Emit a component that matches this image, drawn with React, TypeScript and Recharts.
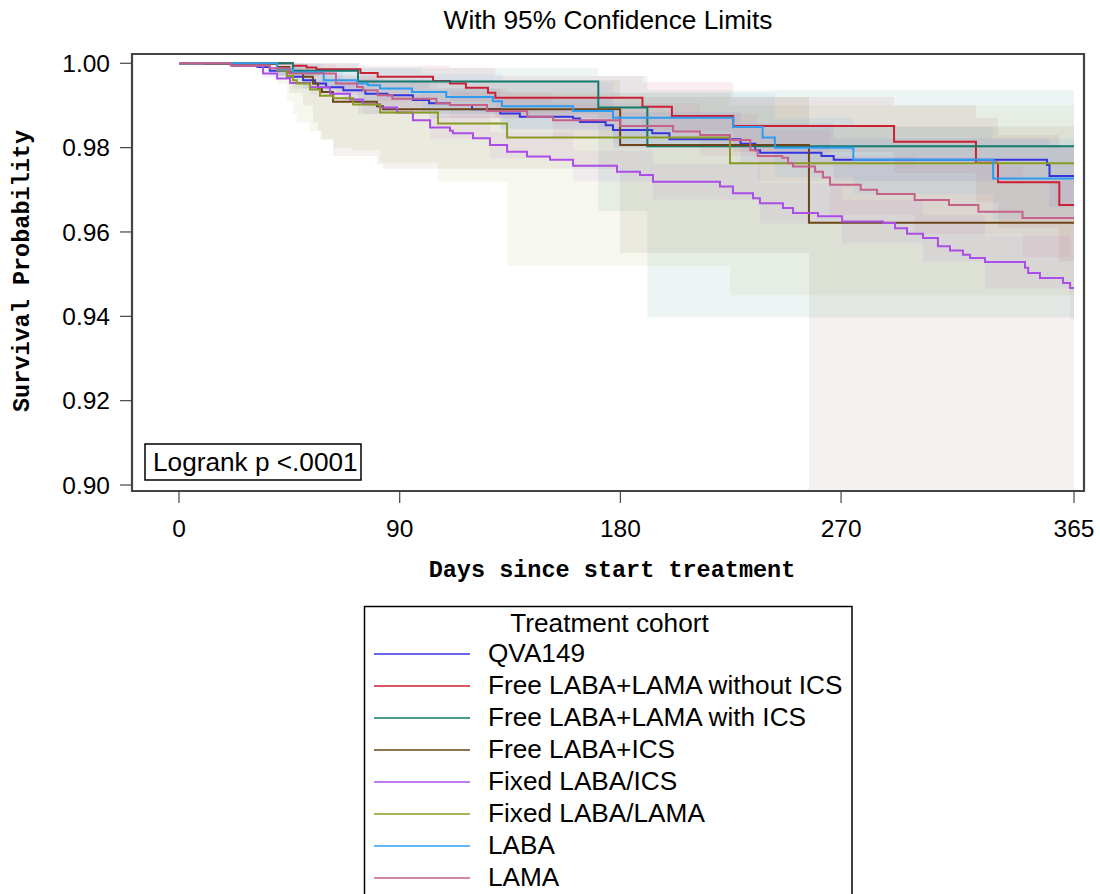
import React from 'react';
import { ComposedChart, Line, Area, XAxis, YAxis, ReferenceArea } from 'recharts';

// ---------- axis ticks ----------
const xTicks = [0, 90, 180, 270, 365];
const yTicks = [0.9, 0.92, 0.94, 0.96, 0.98, 1.0];
const xDomain = [-19.17, 369.07];
const yDomain = [0.89858, 1.0022];

// ---------- survival curves ----------
const qvaDays = [0, 22, 32, 37, 44, 50.6, 55.5, 60, 67, 76, 85, 95.4, 102, 110.5, 119.5, 131, 139, 160.7, 163.5, 174, 177, 193, 200, 229, 235, 237, 262, 267, 354, 355, 365];
const qvaSurv = [1, 0.9995, 0.9991, 0.9982, 0.9968, 0.996, 0.9952, 0.9943, 0.9936, 0.9928, 0.9924, 0.9913, 0.9905, 0.9901, 0.9891, 0.9881, 0.9873, 0.9869, 0.9861, 0.9853, 0.9842, 0.9834, 0.982, 0.9809, 0.9794, 0.9788, 0.978, 0.9771, 0.9759, 0.9733, 0.9733];

const redDays = [0, 46.5, 52, 56, 74, 81, 103.6, 110.5, 117, 126, 129, 189, 201, 226, 291.6, 325, 334, 359, 365];
const redSurv = [1, 0.9994, 0.999, 0.9986, 0.9977, 0.9968, 0.9958, 0.9952, 0.9942, 0.993, 0.9918, 0.9897, 0.9875, 0.9851, 0.9814, 0.9764, 0.9718, 0.9664, 0.9664];

const tealDays = [0, 46.5, 73, 171, 191, 365];
const tealSurv = [1, 0.9982, 0.9957, 0.9895, 0.9803, 0.9803];

const brownDays = [0, 10.6, 40, 45, 50.6, 54.6, 56.7, 58.3, 62.8, 80.7, 83.2, 179.9, 256.9, 365];
const brownSurv = [1, 0.9998, 0.9991, 0.9979, 0.9968, 0.9952, 0.994, 0.9932, 0.9909, 0.9898, 0.9891, 0.9806, 0.9622, 0.9622];

const purpleDays = [0, 21.6, 34.3, 40, 45.3, 53.4, 61.6, 69.7, 75, 82, 88.9, 95.4, 102.4, 110.5, 111.7, 119.9, 126.8, 133.8, 141.9, 151.3, 160.7, 178.6, 188, 193.3, 220.6, 225.9, 234.1, 236.9, 246.3, 250.4, 260.6, 270.4, 287.1, 292, 296.9, 303.4, 309.5, 314.4, 319.7, 322.6, 328.7, 345, 346.3, 351.1, 360.5, 363.4, 365];
const purpleSurv = [1, 0.9994, 0.9976, 0.9964, 0.9953, 0.9943, 0.9928, 0.9914, 0.9903, 0.9895, 0.9883, 0.9865, 0.9848, 0.984, 0.9834, 0.9822, 0.9806, 0.979, 0.9779, 0.9771, 0.9757, 0.9743, 0.9735, 0.9719, 0.9708, 0.9692, 0.968, 0.9668, 0.9657, 0.9645, 0.9637, 0.9625, 0.9621, 0.9609, 0.9596, 0.9586, 0.9566, 0.9556, 0.9546, 0.9538, 0.9529, 0.9515, 0.9503, 0.9491, 0.9479, 0.9467, 0.9467];

const oliveDays = [0, 40, 44, 46.5, 48, 53.4, 57.5, 63, 71, 82, 105.6, 133.8, 224.7, 365];
const oliveSurv = [1, 0.9983, 0.997, 0.996, 0.9952, 0.9938, 0.9923, 0.9917, 0.9902, 0.9883, 0.9857, 0.9824, 0.9763, 0.9763];

const labaDays = [0, 40, 46.5, 59, 72.6, 77, 82, 95, 109, 128, 131.7, 160.7, 177, 226, 238, 243, 275, 332, 365];
const labaSurv = [1, 0.9986, 0.9979, 0.996, 0.9952, 0.9948, 0.994, 0.9932, 0.992, 0.991, 0.9898, 0.9887, 0.9871, 0.9849, 0.9824, 0.98, 0.9771, 0.9727, 0.9727];

const lamaDays = [0, 21, 37, 45, 64, 72.6, 75, 81, 87, 105, 110.5, 125.6, 142, 152.5, 180, 201.5, 212.5, 224.7, 233, 236, 246, 248.4, 250.4, 259.4, 262.6, 265.5, 278, 284.7, 300, 314, 326, 344, 365];
const lamaSurv = [1, 0.9995, 0.9988, 0.9976, 0.9952, 0.9944, 0.9936, 0.9924, 0.9916, 0.9905, 0.9901, 0.9887, 0.9873, 0.9865, 0.9851, 0.9838, 0.983, 0.9818, 0.9794, 0.978, 0.9776, 0.9763, 0.9755, 0.9743, 0.9729, 0.9712, 0.97, 0.969, 0.9676, 0.9664, 0.9648, 0.9633, 0.9633];

// ---------- 95% confidence limits ----------
const qvaBandDays = [0, 37, 50.6, 67, 102, 131, 177, 229, 267, 355, 365];
const qvaBandLow = [1, 0.997, 0.994, 0.991, 0.987, 0.9845, 0.98, 0.976, 0.972, 0.966, 0.966];
const qvaBandHigh = [1, 0.9994, 0.998, 0.9962, 0.994, 0.9917, 0.9884, 0.9858, 0.9822, 0.9806, 0.9806];

const redBandDays = [0, 46.5, 74, 110.5, 129, 189, 226, 291.6, 325, 334, 359, 365];
const redBandLow = [1, 0.998, 0.995, 0.991, 0.987, 0.984, 0.979, 0.974, 0.967, 0.961, 0.953, 0.953];
const redBandHigh = [1, 1, 0.9995, 0.999, 0.997, 0.9955, 0.992, 0.99, 0.987, 0.983, 0.98, 0.98];

const tealBandDays = [0, 46.5, 73, 171, 191, 365];
const tealBandLow = [1, 0.994, 0.988, 0.965, 0.9397, 0.9397];
const tealBandHigh = [1, 1, 0.9988, 0.997, 0.9936, 0.9936];

const brownBandDays = [0, 40, 45, 50.6, 54.6, 56.7, 58.3, 62.8, 80.7, 83.2, 179.9, 256.9, 365];
const brownBandLow = [1, 0.997, 0.993, 0.99, 0.986, 0.984, 0.982, 0.978, 0.976, 0.975, 0.955, 0.88, 0.88];
const brownBandHigh = [1, 1, 1, 0.9995, 0.999, 0.9985, 0.998, 0.997, 0.9965, 0.996, 0.992, 0.985, 0.985];

const purpleBandDays = [0, 34.3, 53.4, 75, 102.4, 126.8, 160.7, 193.3, 236.9, 270.4, 303.4, 328.7, 363.4, 365];
const purpleBandLow = [1, 0.9965, 0.9925, 0.988, 0.982, 0.9775, 0.972, 0.9677, 0.962, 0.9573, 0.953, 0.9466, 0.9393, 0.9393];
const purpleBandHigh = [1, 0.9986, 0.996, 0.9926, 0.9876, 0.9837, 0.9793, 0.9762, 0.9716, 0.9676, 0.9641, 0.9591, 0.9541, 0.9541];

const oliveBandDays = [0, 40, 44, 46.5, 48, 53.4, 57.5, 63, 71, 82, 105.6, 133.8, 224.7, 365];
const oliveBandLow = [1, 0.995, 0.991, 0.988, 0.986, 0.984, 0.9818, 0.98, 0.9794, 0.9764, 0.9719, 0.952, 0.945, 0.945];
const oliveBandHigh = [1, 1, 0.9995, 0.999, 0.9988, 0.998, 0.997, 0.9965, 0.996, 0.995, 0.994, 0.993, 0.99, 0.99];

const labaBandDays = [0, 40, 59, 99, 131.7, 177, 243, 275, 332, 365];
const labaBandLow = [1, 0.997, 0.993, 0.988, 0.984, 0.981, 0.973, 0.969, 0.963, 0.963];
const labaBandHigh = [1, 1, 0.999, 0.9975, 0.9955, 0.993, 0.987, 0.985, 0.982, 0.982];

const lamaBandDays = [0, 37, 64, 81, 110.5, 152.5, 212.5, 236, 265.5, 300, 344, 365];
const lamaBandLow = [1, 0.9975, 0.993, 0.9895, 0.987, 0.9825, 0.978, 0.972, 0.964, 0.9595, 0.954, 0.954];
const lamaBandHigh = [1, 0.9998, 0.9974, 0.9953, 0.9932, 0.9905, 0.988, 0.984, 0.978, 0.9757, 0.9726, 0.9726];

// ---------- series metadata ----------
const cohortNames = [
  'QVA149',
  'Free LABA+LAMA without ICS',
  'Free LABA+LAMA with ICS',
  'Free LABA+ICS',
  'Fixed LABA/ICS',
  'Fixed LABA/LAMA',
  'LABA',
  'LAMA',
];
const cohortColors = ['#3535e0', '#cc2035', '#137a6c', '#6e4519', '#a94ee8', '#8b9a22', '#2f9cf2', '#c6618a'];

const lineSets = [
  [qvaDays, qvaSurv],
  [redDays, redSurv],
  [tealDays, tealSurv],
  [brownDays, brownSurv],
  [purpleDays, purpleSurv],
  [oliveDays, oliveSurv],
  [labaDays, labaSurv],
  [lamaDays, lamaSurv],
];
const bandSets = [
  [qvaBandDays, qvaBandLow, qvaBandHigh],
  [redBandDays, redBandLow, redBandHigh],
  [tealBandDays, tealBandLow, tealBandHigh],
  [brownBandDays, brownBandLow, brownBandHigh],
  [purpleBandDays, purpleBandLow, purpleBandHigh],
  [oliveBandDays, oliveBandLow, oliveBandHigh],
  [labaBandDays, labaBandLow, labaBandHigh],
  [lamaBandDays, lamaBandLow, lamaBandHigh],
];

const lineData = lineSets.map(([d, s]) => d.map((day, i) => ({ day, s: s[i] })));
const bandData = bandSets.map(([d, lo, hi]) => d.map((day, i) => ({ day, band: [lo[i], hi[i]] })));

const SANS = '"Liberation Sans", Arial, Helvetica, sans-serif';
const MONO = '"Liberation Mono", "Courier New", monospace';

export default function App() {
  return (
    <div style={{ position: 'absolute', left: 0, top: 0, width: 1100, height: 894, overflow: 'hidden', background: '#fff' }}>
      <ComposedChart width={1100} height={894} margin={{ top: 54, right: 16, bottom: 0, left: 0 }}>
        <XAxis
          dataKey="day"
          type="number"
          domain={xDomain}
          allowDataOverflow
          ticks={xTicks}
          height={403}
          axisLine={false}
          tickLine={{ stroke: '#444', strokeWidth: 1.2 }}
          tickSize={12}
          tickMargin={17}
          tick={{ fill: '#000', fontSize: 24.5, fontFamily: SANS }}
        />
        <YAxis
          type="number"
          domain={yDomain}
          allowDataOverflow
          ticks={yTicks}
          width={132}
          axisLine={false}
          tickLine={{ stroke: '#444', strokeWidth: 1.2 }}
          tickSize={12}
          tickMargin={10}
          tickFormatter={(v: number) => v.toFixed(2)}
          tick={{ fill: '#000', fontSize: 24.5, fontFamily: SANS }}
        />
        {bandData.map((data, i) => (
          <Area
            key={'band' + i}
            data={data}
            dataKey="band"
            type="stepAfter"
            stroke="none"
            fill={cohortColors[i]}
            fillOpacity={0.075}
            isAnimationActive={false}
            dot={false}
            activeDot={false}
          />
        ))}
        {lineData.map((data, i) => (
          <Line
            key={'line' + i}
            data={data}
            dataKey="s"
            name={cohortNames[i]}
            type="stepAfter"
            stroke={cohortColors[i]}
            strokeWidth={2}
            dot={false}
            activeDot={false}
            isAnimationActive={false}
          />
        ))}
        <ReferenceArea
          x1={xDomain[0]}
          x2={xDomain[1]}
          y1={yDomain[0]}
          y2={yDomain[1]}
          fill="none"
          stroke="#444"
          strokeWidth={2.2}
          ifOverflow="visible"
        />
      </ComposedChart>
      <svg width={1100} height={894} style={{ position: 'absolute', left: 0, top: 0, pointerEvents: 'none' }}>
        <text x={608} y={29} textAnchor="middle" fontFamily={SANS} fontSize={26.3} fill="#000">
          With 95% Confidence Limits
        </text>
        <text x={612} y={577} textAnchor="middle" fontFamily={MONO} fontWeight="bold" fontSize={23.5} fill="#000">
          Days since start treatment
        </text>
        <text
          x={0}
          y={0}
          transform="translate(29,271) rotate(-90)"
          textAnchor="middle"
          fontFamily={MONO}
          fontWeight="bold"
          fontSize={23.5}
          fill="#000"
        >
          Survival Probability
        </text>
        <rect x={145} y={444} width={216} height={36} fill="#fff" stroke="#000" strokeWidth={1.5} />
        <text x={153} y={471} fontFamily={SANS} fontSize={26.2} fill="#000">
          Logrank p &lt;.0001
        </text>
        <rect x={364.5} y={606.5} width={487.5} height={300} fill="#fff" stroke="#000" strokeWidth={1.5} />
        <text x={609.5} y={632} textAnchor="middle" fontFamily={SANS} fontSize={26.2} fill="#000">
          Treatment cohort
        </text>
        {cohortNames.map((name, i) => (
          <g key={name}>
            <line x1={374} x2={470} y1={654 + 32 * i} y2={654 + 32 * i} stroke={cohortColors[i]} strokeWidth={1.5} />
            <text x={488} y={662 + 32 * i} fontFamily={SANS} fontSize={26.2} fill="#000">
              {name}
            </text>
          </g>
        ))}
      </svg>
    </div>
  );
}
